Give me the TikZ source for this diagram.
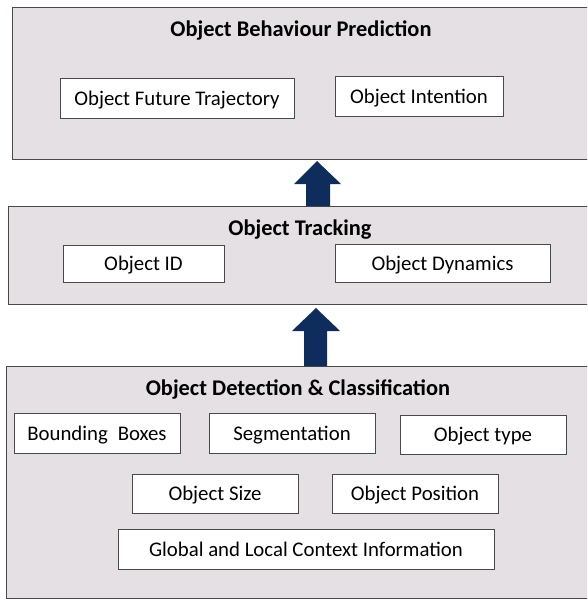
\documentclass[tikz,border=0pt]{standalone}
\usepackage{fontspec}
\setmainfont{Carlito}
\definecolor{panel}{HTML}{E5E0E3}
\definecolor{edge}{HTML}{4A4A4A}
\definecolor{navy}{HTML}{0F2D5C}
\begin{document}
\begin{tikzpicture}[x=1pt,y=-1pt,
  panelbox/.style={draw=edge, line width=1.3pt, fill=panel, anchor=north west, inner sep=0pt},
  itembox/.style={draw=edge, line width=1pt, fill=white, inner sep=0pt, text depth=0pt, font=\fontsize{20.8}{24}\selectfont},
  titletext/.style={font=\fontsize{22.4}{26}\selectfont\bfseries, anchor=base, inner sep=0pt},
  blockarrow/.style={fill=navy, draw=none}]
\useasboundingbox (0,0) rectangle (587,600);
\clip (0,0) rectangle (587,600);
% panels
\node[panelbox, minimum width=590pt, minimum height=152pt] (pred) at (12,7) {};
\node[panelbox, minimum width=594pt, minimum height=98pt] (track) at (8,206) {};
\node[panelbox, minimum width=596pt, minimum height=232pt] (detect) at (6,366) {};
% titles
\node[titletext] (predt) at (301,36) {Object Behaviour Prediction};
\node[titletext] (trackt) at (300,235) {Object Tracking};
\node[titletext] (detectt) at (298,395) {Object Detection \& Classification};
% items: prediction
\node[itembox, minimum width=234pt, minimum height=40pt] (traj) at (177,98) {Object Future Trajectory};
\node[itembox, minimum width=168pt, minimum height=40pt] (intent) at (419,96) {Object Intention};
% items: tracking
\node[itembox, minimum width=161pt, minimum height=37pt] (oid) at (143.5,263.5) {Object ID};
\node[itembox, minimum width=215pt, minimum height=38pt] (dyn) at (442.5,263) {Object Dynamics};
% items: detection
\node[itembox, minimum width=166pt, minimum height=40pt] (bbox) at (97,433) {Bounding\hspace{0.25em} Boxes};
\node[itembox, minimum width=166pt, minimum height=40pt] (seg) at (292,433) {Segmentation};
\node[itembox, minimum width=166pt, minimum height=39pt] (otype) at (483,434.5) {Object type};
\node[itembox, minimum width=166pt, minimum height=39pt] (osize) at (215,493.5) {Object Size};
\node[itembox, minimum width=166pt, minimum height=39pt] (opos) at (415,493.5) {Object Position};
\node[itembox, minimum width=376pt, minimum height=40pt] (ctx) at (306,549) {Global and Local Context Information};
% block arrows
\coordinate (tipA) at (317,161);
\coordinate (tipB) at (316,308);
\fill[blockarrow] (306,0 |- track.north) -- (306,184) -- (294,184) -- (tipA) -- (341,184) -- (330,184) -- (330,0 |- track.north) -- cycle;
\fill[blockarrow] (304,0 |- detect.north) -- (304,331) -- (292,331) -- (tipB) -- (340,331) -- (327,331) -- (327,0 |- detect.north) -- cycle;
\end{tikzpicture}
\end{document}
